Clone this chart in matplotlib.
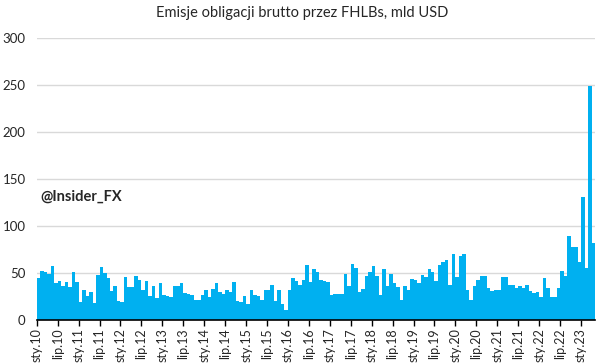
import numpy as np
import matplotlib.pyplot as plt

# DANE MIESIECZNE (mld USD)
emisje_2010 = [45, 52, 51, 49, 57, 39, 42, 36, 40, 35, 51, 40]
emisje_2011 = [19, 32, 26, 30, 18, 48, 56, 50, 45, 31, 36, 20]
emisje_2012 = [19, 46, 35, 35, 47, 43, 32, 41, 25, 36, 23, 39]
emisje_2013 = [27, 26, 24, 36, 36, 39, 29, 28, 27, 21, 21, 27]
emisje_2014 = [32, 24, 33, 39, 30, 28, 32, 30, 40, 20, 19, 25]
emisje_2015 = [17, 32, 27, 26, 21, 32, 32, 37, 20, 32, 17, 11]
emisje_2016 = [32, 45, 41, 37, 43, 58, 40, 54, 51, 43, 41, 40]
emisje_2017 = [27, 28, 28, 28, 49, 36, 60, 55, 30, 33, 47, 51]
emisje_2018 = [57, 47, 27, 54, 36, 49, 39, 35, 21, 36, 32, 44]
emisje_2019 = [43, 39, 48, 46, 54, 51, 42, 59, 62, 64, 37, 70]
emisje_2020 = [46, 68, 70, 32, 21, 36, 43, 47, 47, 34, 31, 32]
emisje_2021 = [32, 46, 46, 37, 37, 34, 36, 34, 37, 31, 29, 30]
emisje_2022 = [24, 45, 34, 24, 24, 34, 52, 47, 89, 78, 78, 62]
emisje_2023 = [131, 55, 249, 82]

emisje = (emisje_2010 + emisje_2011 + emisje_2012 + emisje_2013 + emisje_2014
          + emisje_2015 + emisje_2016 + emisje_2017 + emisje_2018 + emisje_2019
          + emisje_2020 + emisje_2021 + emisje_2022 + emisje_2023)

etykiety_x = ['sty.10', 'lip.10', 'sty.11', 'lip.11', 'sty.12', 'lip.12', 'sty.13',
              'lip.13', 'sty.14', 'lip.14', 'sty.15', 'lip.15', 'sty.16', 'lip.16',
              'sty.17', 'lip.17', 'sty.18', 'lip.18', 'sty.19', 'lip.19', 'sty.20',
              'lip.20', 'sty.21', 'lip.21', 'sty.22', 'lip.22', 'sty.23']

plt.rcParams['font.family'] = ['Lato', 'DejaVu Sans']

miesiace = np.arange(len(emisje))

fig = plt.figure(figsize=(6.01, 3.64), dpi=100)
ax = fig.add_axes([0.0611, 0.1209, 0.9289, 0.7747])

ax.bar(miesiace, emisje, width=1.0, color='#00B0F0', zorder=2)

ax.set_xlim(-0.5, len(emisje) - 0.5)
ax.set_ylim(0, 300)
ax.set_yticks(range(0, 301, 50))
ax.grid(axis='y', color='#D9D9D9', linewidth=1, zorder=0)

for s in ['top', 'right', 'left']:
    ax.spines[s].set_visible(False)
ax.spines['bottom'].set_color('black')
ax.spines['bottom'].set_linewidth(1.2)
ax.spines['bottom'].set_zorder(3)

ax.tick_params(axis='y', length=0, labelsize=9.5, labelcolor='#262626', pad=8)
ax.set_xticks(np.arange(0, len(emisje), 6) - 0.5)
ax.set_xticklabels(etykiety_x, rotation=90, fontsize=9, color='#262626')
ax.tick_params(axis='x', length=4, width=1, pad=2)

fig.text(0.503, 0.965, 'Emisje obligacji brutto przez FHLBs, mld USD',
         ha='center', va='center', fontsize=10.5, color='#262626')
ax.text(0.5, 131, '@Insider_FX', fontsize=10.5, fontweight='bold',
        color='#262626', va='center', ha='left', zorder=4)

fig.savefig('out.png', dpi=100)
